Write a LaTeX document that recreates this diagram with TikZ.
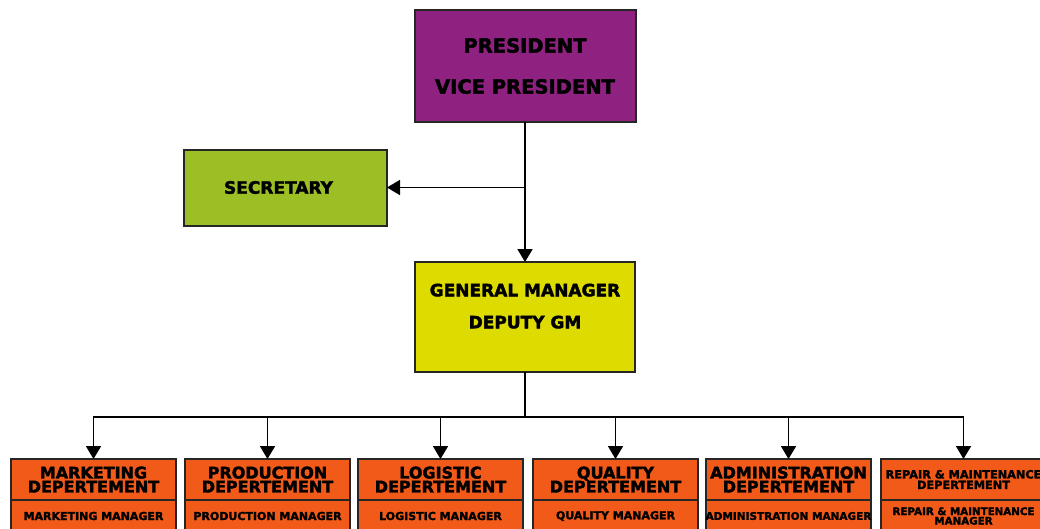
\documentclass[tikz,border=0pt]{standalone}
\usepackage{fontspec}
\setmainfont{DejaVu Sans}[BoldFeatures={FakeBold=2.2}]
\usetikzlibrary{positioning,arrows.meta}

\definecolor{presPurple}{HTML}{8F2280}
\definecolor{secGreen}{HTML}{9CBF25}
\definecolor{gmYellow}{HTML}{DDDB00}
\definecolor{deptOrange}{HTML}{F25A1A}

\begin{document}
\begin{tikzpicture}
[x=1pt,y=-1pt,
 box/.style={draw=black!85,line width=2pt,inner sep=0pt,outer sep=0pt,align=center},
 dept/.style={box,fill=deptOrange,minimum width=165pt,minimum height=41pt,
   font=\bfseries\fontsize{16}{14}\selectfont},
 mgr/.style={box,fill=deptOrange,minimum width=165pt,minimum height=32pt,
   font=\bfseries\fontsize{11}{10}\selectfont},
 link/.style={line width=1.8pt,-{Triangle[width=15pt,length=13pt]}}]
\useasboundingbox (0,0) rectangle (1040,528);
\clip (0,0) rectangle (1040,528);

% top of the chart
\node[box,fill=presPurple,minimum width=221pt,minimum height=112pt,
  font=\bfseries\fontsize{19.5}{22}\selectfont] (pres) at (525,66)
  {PRESIDENT\\[19pt]VICE PRESIDENT};
\node[box,fill=secGreen,minimum width=203pt,minimum height=76pt,
  font=\bfseries\fontsize{17}{20}\selectfont] (sec) at (285.5,187.5)
  {\hspace*{-14pt}SECRETARY};
\node[box,fill=gmYellow,minimum width=220pt,minimum height=110pt,
  font=\bfseries\fontsize{17}{20}\selectfont] (gm) at (525,317)
  {GENERAL MANAGER\\[12pt]DEPUTY GM\\[2pt]};
\coordinate (split) at (525,187.5);

\draw [line width=1.8pt] (pres) -- (split);
\draw [link] (split) -- (gm);
\draw [link] (split) -- (sec);

% departments
\node[dept] (mkt) at (93.5,479.5) {MARKETING\\DEPERTEMENT};
\node[dept] (prod) at (267.5,479.5) {PRODUCTION\\DEPERTEMENT};
\node[dept] (logi) at (440.5,479.5) {LOGISTIC\\DEPERTEMENT};
\node[dept] (qual) at (615.5,479.5) {QUALITY\\DEPERTEMENT};
\node[dept] (admin) at (788.5,479.5) {ADMINISTRATION\\DEPERTEMENT};
\node[dept,font=\bfseries\fontsize{11.3}{10.5}\selectfont] (rep) at (963.5,479.5)
  {REPAIR \& MAINTENANCE\\DEPERTEMENT};

\node[mgr,below=0pt of mkt] (mktm) {MARKETING MANAGER};
\node[mgr,below=0pt of prod] (prodm) {PRODUCTION MANAGER};
\node[mgr,below=0pt of logi] (logim) {LOGISTIC MANAGER};
\node[mgr,below=0pt of qual] (qualm) {QUALITY MANAGER};
\node[mgr,below=0pt of admin,font=\bfseries\fontsize{10.5}{10}\selectfont] (adminm)
  {ADMINISTRATION MANAGER};
\node[mgr,below=0pt of rep,font=\bfseries\fontsize{10.3}{9.5}\selectfont] (repm)
  {REPAIR \& MAINTENANCE\\MANAGER};

\coordinate (bus) at (525,417);
\draw [line width=1.8pt] (gm) -- (bus);
\draw [link] (bus) -| (mkt);
\draw [link] (bus) -| (prod);
\draw [link] (bus) -| (logi);
\draw [link] (bus) -| (qual);
\draw [link] (bus) -| (admin);
\draw [link] (bus) -| (rep);
\end{tikzpicture}
\end{document}
